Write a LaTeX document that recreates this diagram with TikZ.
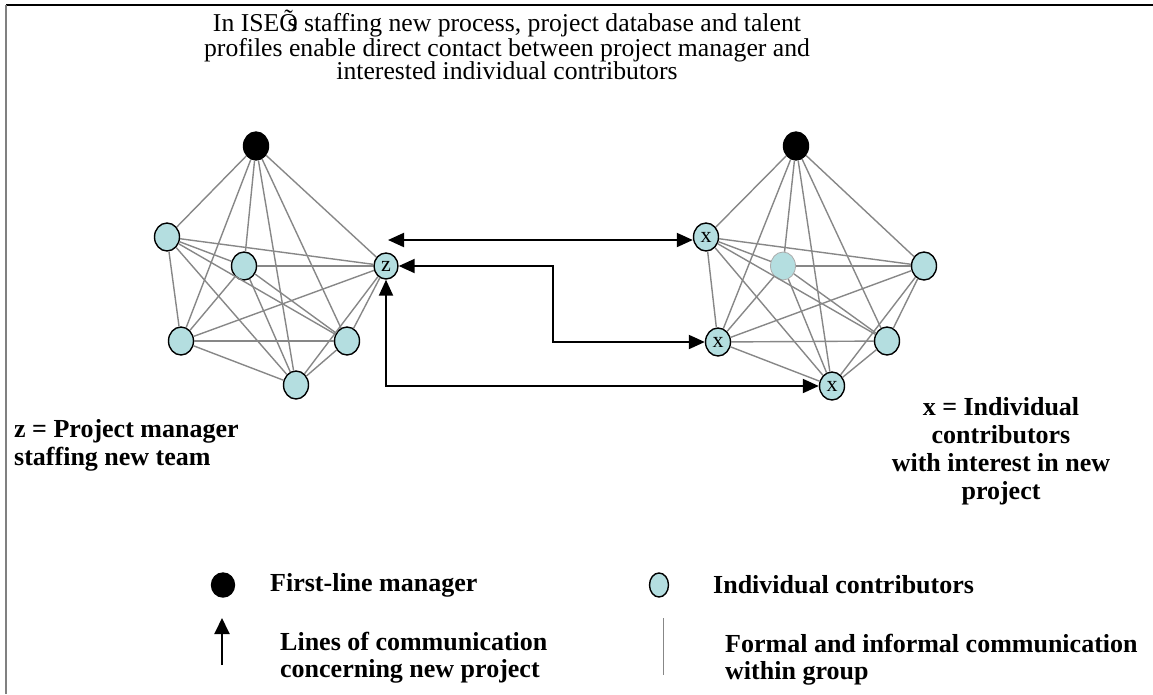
\documentclass[tikz,border=0pt]{standalone}
\usepackage{fontspec}
\setmainfont{Liberation Serif}
\usetikzlibrary{shapes.geometric,arrows.meta,calc}
\definecolor{icfill}{RGB}{180,222,224}
\definecolor{edgegray}{RGB}{135,135,135}

\begin{document}
\begin{tikzpicture}[x=1pt,y=-1pt,
  contrib/.style={ellipse,draw=black,line width=1.4pt,fill=icfill,
    minimum width=25pt,minimum height=28pt,inner sep=0pt,
    font=\fontsize{22}{22}\selectfont},
  pale/.style={contrib,draw=edgegray!70,line width=0.8pt},
  mgr/.style={ellipse,draw=black,line width=1.4pt,fill=black,
    minimum width=25pt,minimum height=28pt,inner sep=0pt},
  link/.style={draw=edgegray,line width=1.4pt},
  comm/.style={draw=black,line width=2pt,{Triangle[length=16pt,width=14pt]}-{Triangle[length=16pt,width=14pt]}},
  commone/.style={draw=black,line width=2pt,-{Triangle[length=16pt,width=15pt]}},
  lbl/.style={font=\bfseries\fontsize{26}{28}\selectfont,inner sep=0pt},
  twoline/.style={lbl,anchor=west,align=left,font=\bfseries\fontsize{26}{27}\selectfont},
  titletext/.style={font=\fontsize{25.7}{23.5}\selectfont,align=center,inner sep=0pt}
]
\useasboundingbox (0,0) rectangle (1153,694);

% frame
\draw[black,line width=1.5pt] (6,5) -- (1153,5);
\draw[gray,line width=2pt] (6,5) -- (6,694);

% title
\node[titletext] (title) at (507,45) {In ISEÕ\kern-0.4em s staffing new process, project database and talent\\
profiles enable direct contact between project manager and\\
interested individual contributors};

% left group
\node[mgr] (lb) at (256,146) {};
\node[contrib] (l1) at (167,237) {};
\node[contrib] (l2) at (244,266) {};
\node[contrib,minimum width=24pt,minimum height=26pt] (z) at (386,266) {z};
\node[contrib] (l3) at (181,341) {};
\node[contrib] (l4) at (347,341) {};
\node[contrib] (l5) at (296,385) {};

\foreach \a/\b in {lb/l1,lb/l2,lb/z,lb/l3,lb/l4,lb/l5,
                   l1/l2,l1/z,l1/l3,l1/l4,l1/l5,
                   l2/z,l2/l3,l2/l4,l2/l5,
                   z/l3,z/l4,z/l5,
                   l3/l4,l3/l5,l4/l5}
  \draw[link] (\a) -- (\b);

% right group
\node[mgr] (rb) at (796,146) {};
\node[contrib] (x1) at (706,237) {x};
\node[pale] (r2) at (783,266) {};
\node[contrib] (r3) at (924,266) {};
\node[contrib] (x2) at (718,342) {x};
\node[contrib] (r4) at (887,341) {};
\node[contrib] (x3) at (832,386) {x};

\foreach \a/\b in {rb/x1,rb/r2,rb/r3,rb/x2,rb/r4,rb/x3,
                   x1/r2,x1/r3,x1/x2,x1/r4,x1/x3,
                   r2/r3,r2/x2,r2/r4,r2/x3,
                   r3/x2,r3/r4,r3/x3,
                   x2/r4,x2/x3,r4/x3}
  \draw[link] (\a) -- (\b);

% lines of communication concerning the new project
\coordinate (a1) at (388,240);
\coordinate (bend) at (553,300);
\draw[comm] (a1) -- (a1 -| x1.west);
\draw[comm] (z.east) -- (z.east -| bend) |- (x2.west);
\draw[comm] (z.south) |- (x3.west);

% group labels
\node[lbl,anchor=west,align=left] (zlbl) at (14,445) {z = Project manager\\staffing new team};
\node[lbl,align=center] (xlbl) at (1001,451) {x = Individual\\contributors\\with interest in new\\project};

% legend
\node[mgr,minimum width=23pt,minimum height=24pt] (kmgr) at (223,585) {};
\node[lbl,anchor=west] (tmgr) at (270,585) {First-line manager};
\node[contrib,minimum width=19pt,minimum height=24pt] (kic) at (659,585) {};
\node[lbl,anchor=west] (tic) at (713,585) {Individual contributors};

\coordinate (ka0) at (222,665);
\coordinate (ka1) at (222,618);
\draw[commone] (ka0) -- (ka1);
\node[twoline] (tcomm) at (280,658) {Lines of communication\\concerning new project};

\coordinate (kg0) at (663,618);
\coordinate (kg1) at (663,675);
\draw[link,line width=1pt] (kg0) -- (kg1);
\node[twoline] (tgrp) at (725,660) {Formal and informal communication\\within group};
\end{tikzpicture}
\end{document}
